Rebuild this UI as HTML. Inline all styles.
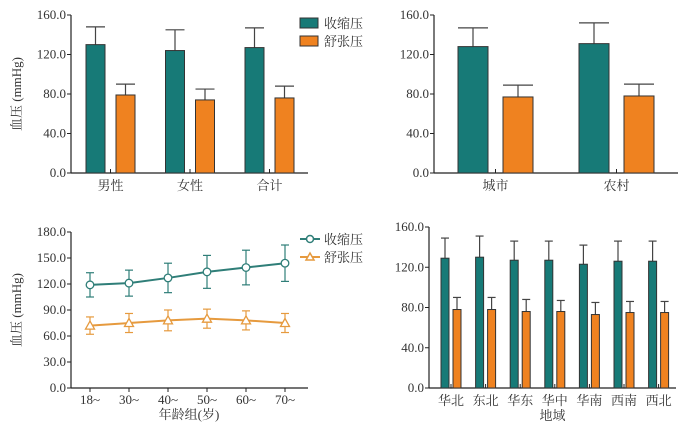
<!DOCTYPE html>
<html><head><meta charset="utf-8"><style>
html,body{margin:0;padding:0;background:#fff;width:688px;height:429px;overflow:hidden}
svg text{font-family:"Liberation Serif","Noto Serif CJK SC",serif;fill:#333;font-size:13px}
</style></head><body>
<svg id="c" width="688" height="429" xmlns="http://www.w3.org/2000/svg"></svg>
<script>
const TEAL='#177a77', ORANGE='#ef8220';
const sexCats=['男性','女性','合计'];
const sexSys=[130,124,127], sexSysErr=[18,21,20];
const sexDia=[79,74,76], sexDiaErr=[11,11,12];
const areaCats=['城市','农村'];
const areaSys=[128,131], areaSysErr=[19,21];
const areaDia=[77,78], areaDiaErr=[12,12];
const ageCats=['18~','30~','40~','50~','60~','70~'];
const ageSys=[119,121,127,134,139,144], ageSysErr=[14,15,17,19,20,21];
const ageDia=[72,75,78,80,78,75], ageDiaErr=[10,11,12,11,11,11];
const regCats=['华北','东北','华东','华中','华南','西南','西北'];
const regSys=[129,130,127,127,123,126,126], regSysErr=[20,21,19,19,19,20,20];
const regDia=[78,78,76,76,73,75,75], regDiaErr=[12,12,12,11,12,11,11];
const ticks160=[0,40,80,120,160];
const ticks180=[0,30,60,90,120,150,180];

const svg=document.getElementById('c');
const NS='http://www.w3.org/2000/svg';
function el(t,a,p){const e=document.createElementNS(NS,t);for(const k in a)e.setAttribute(k,a[k]);(p||svg).appendChild(e);return e;}
function txt(x,y,s,anchor,size,p){const e=el('text',{x:x,y:y,'text-anchor':anchor||'middle','font-size':size||13},p);e.textContent=s;return e;}

function axes(g,x0,x1,yTop,yBot,max,ticks,ylabel){
  const ys=v=>yBot-(v/max)*(yBot-yTop);
  const ax=el('line',{x1:x0,y1:yTop,x2:x0,y2:yBot,stroke:'#222','stroke-width':1.2},g);
  
  const bx=el('line',{x1:x0,y1:yBot,x2:x1,y2:yBot,stroke:'#222','stroke-width':1.2},g);
  
  ticks.forEach(t=>{
    el('line',{x1:x0-4,y1:ys(t),x2:x0,y2:ys(t),stroke:'#222'},g);
    const l=txt(x0-5,ys(t)+4,t.toFixed(1),'end',13,g);
    
  });
  if(ylabel){const l=txt(0,0,ylabel,'middle',13,g);l.setAttribute('transform',`translate(${x0-50},${(yTop+yBot)/2}) rotate(-90)`);
    }
  return ys;
}
function errBar(g,x,yv,ye,cap){el('line',{x1:x,y1:yv,x2:x,y2:ye,stroke:'#444','stroke-width':1.2},g);el('line',{x1:x-cap,y1:ye,x2:x+cap,y2:ye,stroke:'#444','stroke-width':1.2},g);}

function barChart(name,x0,x1,yTop,yBot,max,ticks,cats,sys,sysE,dia,diaE,start,step,bw,gap,ylabel,xlabel,labSize){
  const g=el('g',{});
  const ys=axes(g,x0,x1,yTop,yBot,max,ticks,ylabel);
  cats.forEach((c,i)=>{
    const xs=start+i*step, xd=xs+bw+gap;
    errBar(g,xs+bw/2,ys(sys[i]),ys(sys[i]+sysE[i]),bw/2);
    errBar(g,xd+bw/2,ys(dia[i]),ys(dia[i]+diaE[i]),bw/2);
    const b1=el('rect',{x:xs,y:ys(sys[i]),width:bw,height:yBot-ys(sys[i]),fill:TEAL,stroke:'#333','stroke-width':1},g);
    
    const b2=el('rect',{x:xd,y:ys(dia[i]),width:bw,height:yBot-ys(dia[i]),fill:ORANGE,stroke:'#333','stroke-width':1},g);
    
    const cx=(xs+bw+xd)/2;
    el('line',{x1:cx,y1:yBot-4,x2:cx,y2:yBot,stroke:'#222'},g);
    const l=txt(cx,yBot+17,c,'middle',labSize,g);
    
  });
  if(xlabel){const l=txt((x0+x1)/2,yBot+32,xlabel,'middle',14,g);}
}
barChart('chart-by-sex',71,308,15,173,160,ticks160,sexCats,sexSys,sexSysErr,sexDia,sexDiaErr,86,79.5,19,11,'血压 (mmHg)','',14);
barChart('chart-by-area',434,678,15,173,160,ticks160,areaCats,areaSys,areaSysErr,areaDia,areaDiaErr,458,121,30,15,'','',14);
barChart('chart-by-region',429,676,227,388,160,ticks160,regCats,regSys,regSysErr,regDia,regDiaErr,441,34.6,8,4,'','地域',15);

// legends
[[TEAL,'收缩压',18],[ORANGE,'舒张压',36]].forEach(([c,s,y])=>{
  const r=el('rect',{x:300,y:y,width:18,height:10,fill:c,stroke:'#333'});
  
  const t=txt(324,y+10,s,'start',13);
});

// line chart
(function(){
  const g=el('g',{});
  const yBot=388,yTop=232;
  const ys=axes(g,71,308,yTop,yBot,180,ticks180,'血压 (mmHg)');
  const xs=i=>90+i*39;
  const LT='#2f7e78', LO='#e69a3e';
  ageCats.forEach((c,i)=>{el('line',{x1:xs(i),y1:yBot,x2:xs(i),y2:yBot+4,stroke:'#222'},g);
    const l=txt(xs(i),yBot+16,c,'middle',13,g);});
  const xt=txt(189,yBot+31,'年龄组(岁)','middle',14,g);
  function series(vals,errs,col,name,marker){
    vals.forEach((v,i)=>{const x=xs(i);
      el('line',{x1:x,y1:ys(v-errs[i]),x2:x,y2:ys(v+errs[i]),stroke:col,'stroke-width':1.2},g);
      el('line',{x1:x-4,y1:ys(v+errs[i]),x2:x+4,y2:ys(v+errs[i]),stroke:col,'stroke-width':1.2},g);
      el('line',{x1:x-4,y1:ys(v-errs[i]),x2:x+4,y2:ys(v-errs[i]),stroke:col,'stroke-width':1.2},g);});
    const p=el('polyline',{points:vals.map((v,i)=>xs(i)+','+ys(v)).join(' '),fill:'none',stroke:col,'stroke-width':2},g);
    
    vals.forEach((v,i)=>{const x=xs(i),y=ys(v);let m;
      if(marker==='c')m=el('circle',{cx:x,cy:y,r:3.8,fill:'#fff',stroke:col,'stroke-width':1.3},g);
      else m=el('polygon',{points:`${x},${y-4.5} ${x-4.5},${y+3.5} ${x+4.5},${y+3.5}`,fill:'#fff',stroke:col,'stroke-width':1.3},g);
      });
  }
  series(ageSys,ageSysErr,LT,'systolic','c');
  series(ageDia,ageDiaErr,LO,'diastolic','t');
  [[LT,'收缩压',239,'c'],[LO,'舒张压',257,'t']].forEach(([c,s,y,m])=>{
    el('line',{x1:300,y1:y,x2:320,y2:y,stroke:c,'stroke-width':2});
    if(m==='c')el('circle',{cx:310,cy:y,r:3.5,fill:'#fff',stroke:c,'stroke-width':1.5});
    else el('polygon',{points:`310,${y-4} 306,${y+3} 314,${y+3}`,fill:'#fff',stroke:c,'stroke-width':1.5});
    const t=txt(324,y+5,s,'start',13);
  });
})();
</script>
</body></html>
